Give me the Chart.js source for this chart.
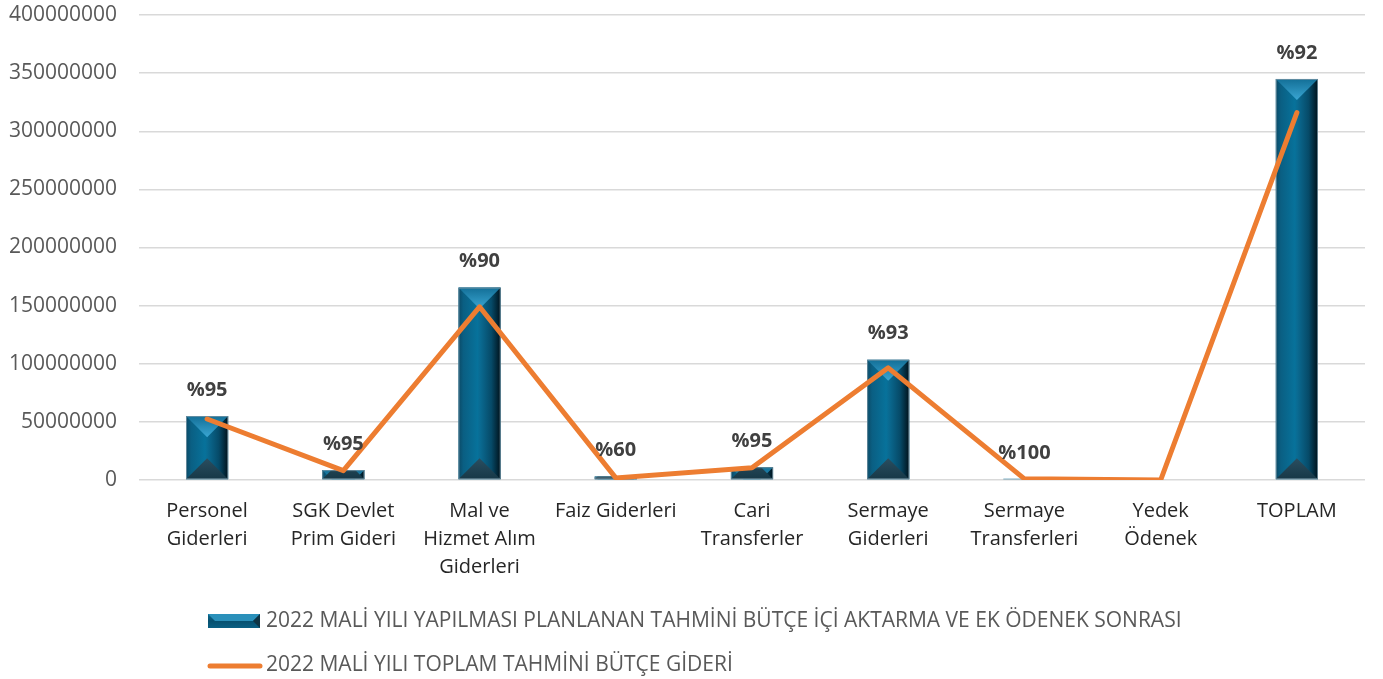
<!DOCTYPE html>
<html>
<head>
<meta charset="utf-8">
<script src="https://cdn.jsdelivr.net/npm/chart.js@4.4.1/dist/chart.umd.min.js"></script>
<style>
  html, body { margin: 0; padding: 0; background: #ffffff; }
  #wrap { position: relative; width: 1383px; height: 679px; }
</style>
</head>
<body>
<div id="wrap"><canvas id="c" width="1383" height="679"></canvas></div>
<script>
// ---- data ----
const categories = [
  ['Personel', 'Giderleri'],
  ['SGK Devlet', 'Prim Gideri'],
  ['Mal ve', 'Hizmet Alım', 'Giderleri'],
  'Faiz Giderleri',
  ['Cari', 'Transferler'],
  ['Sermaye', 'Giderleri'],
  ['Sermaye', 'Transferleri'],
  ['Yedek', 'Ödenek'],
  'TOPLAM'
];
const plannedBudget = [55000000, 8500000, 165500000, 3000000, 11000000, 103500000, 1000000, 0, 345000000];
const totalExpense = [52500000, 8000000, 149000000, 1800000, 10500000, 96500000, 1000000, 0, 316000000];
const percentLabels = ['%95', '%95', '%90', '%60', '%95', '%93', '%100', '', '%92'];
const seriesNames = [
  '2022 MALİ YILI YAPILMASI PLANLANAN TAHMİNİ BÜTÇE İÇİ AKTARMA VE EK ÖDENEK SONRASI',
  '2022 MALİ YILI TOPLAM TAHMİNİ BÜTÇE GİDERİ'
];
const yTicks = { min: 0, max: 400000000, step: 50000000 };

const FONT = "'Open Sans', 'DejaVu Sans', sans-serif";

function drawBevelBar(ctx, x0, x1, top, bottom) {
  const w = x1 - x0, h = bottom - top;
  if (h <= 0.5 || w <= 0) return;
  const cx = (x0 + x1) / 2;
  ctx.save();
  ctx.beginPath();
  ctx.rect(x0, top, w, h);
  ctx.clip();
  const g = ctx.createLinearGradient(x0, 0, x1, 0);
  g.addColorStop(0, '#0b4a67');
  g.addColorStop(0.12, '#0a5f83');
  g.addColorStop(0.45, '#07729b');
  g.addColorStop(0.52, '#0a6a91');
  g.addColorStop(0.78, '#064a68');
  g.addColorStop(1, '#00121b');
  ctx.fillStyle = g;
  ctx.fillRect(x0, top, w, h);
  const d = w * 0.5;
  // top bevel (light)
  const gt = ctx.createLinearGradient(0, top, 0, top + d);
  gt.addColorStop(0, '#136f97');
  gt.addColorStop(1, '#3aa6d3');
  ctx.fillStyle = gt;
  ctx.beginPath();
  ctx.moveTo(x0, top);
  ctx.lineTo(x1, top);
  ctx.lineTo(cx, top + d);
  ctx.closePath();
  ctx.fill();
  // bottom bevel (dark)
  const gb = ctx.createLinearGradient(0, bottom - d, 0, bottom);
  gb.addColorStop(0, '#2b4e60');
  gb.addColorStop(1, '#163847');
  ctx.fillStyle = gb;
  ctx.beginPath();
  ctx.moveTo(x0, bottom);
  ctx.lineTo(x1, bottom);
  ctx.lineTo(cx, bottom - d);
  ctx.closePath();
  ctx.fill();
  ctx.restore();
  ctx.save();
  ctx.strokeStyle = 'rgba(120,150,165,0.8)';
  ctx.lineWidth = 1;
  ctx.strokeRect(x0 + 0.5, top + 0.5, w - 1, Math.max(h - 1, 0));
  ctx.restore();
}

const bevelPlugin = {
  id: 'bevel',
  afterDatasetDraw(chart, args) {
    if (args.index !== 0) return;
    const ctx = chart.ctx;
    args.meta.data.forEach((el) => {
      const p = el.getProps(['x', 'y', 'base', 'width'], true);
      drawBevelBar(ctx, p.x - p.width / 2, p.x + p.width / 2, Math.min(p.y, p.base), Math.max(p.y, p.base));
    });
  }
};

const percentPlugin = {
  id: 'percentLabels',
  afterDatasetsDraw(chart) {
    const ctx = chart.ctx;
    const meta = chart.getDatasetMeta(0);
    ctx.save();
    ctx.font = "bold 20px " + FONT;
    ctx.fillStyle = '#404040';
    ctx.textAlign = 'center';
    ctx.textBaseline = 'middle';
    meta.data.forEach((el, i) => {
      const p = el.getProps(['x', 'y'], true);
      if (percentLabels[i]) ctx.fillText(percentLabels[i], p.x, p.y - 26);
    });
    ctx.restore();
  }
};

function drawBevelLegend(ctx, x, y, w, h) {
  const g = ctx.createLinearGradient(0, y, 0, y + h);
  g.addColorStop(0, '#0a6a91');
  g.addColorStop(0.5, '#07506f');
  g.addColorStop(1, '#0a5f83');
  ctx.fillStyle = g;
  ctx.fillRect(x, y, w, h);
  ctx.fillStyle = '#2a90ba';
  ctx.beginPath();
  ctx.moveTo(x, y); ctx.lineTo(x + w, y); ctx.lineTo(x + w - h / 2, y + h / 2); ctx.lineTo(x + h / 2, y + h / 2); ctx.closePath();
  ctx.fill();
  ctx.fillStyle = '#0f3444';
  ctx.beginPath();
  ctx.moveTo(x + w, y); ctx.lineTo(x + w, y + h); ctx.lineTo(x + w - h / 2, y + h / 2); ctx.closePath();
  ctx.fill();
}

const legendPlugin = {
  id: 'customLegend',
  afterDraw(chart) {
    const ctx = chart.ctx;
    const x = 208, w = 52, tx = 266;
    const y1 = 621, y2 = 665;
    ctx.save();
    drawBevelLegend(ctx, x, y1 - 7, w, 14);
    ctx.strokeStyle = '#ED7D31';
    ctx.lineWidth = 5;
    ctx.lineCap = 'round';
    ctx.beginPath();
    ctx.moveTo(x + 2, y2 + 1);
    ctx.lineTo(x + w, y2 + 1);
    ctx.stroke();
    ctx.font = "21px " + FONT;
    ctx.fillStyle = '#595959';
    ctx.textAlign = 'left';
    ctx.textBaseline = 'middle';
    ctx.fillText(seriesNames[0], tx, y1);
    ctx.fillText(seriesNames[1], tx, y2);
    ctx.restore();
  }
};

new Chart(document.getElementById('c'), {
  data: {
    labels: categories,
    datasets: [
      {
        type: 'bar',
        label: seriesNames[0],
        data: plannedBudget,
        backgroundColor: '#0a6a91',
        barPercentage: 0.31,
        categoryPercentage: 1.0,
        order: 1
      },
      {
        type: 'line',
        label: seriesNames[1],
        data: totalExpense,
        borderColor: '#ED7D31',
        borderWidth: 5,
        pointRadius: 0,
        tension: 0,
        borderCapStyle: 'round',
        borderJoinStyle: 'round',
        order: 0
      }
    ]
  },
  options: {
    responsive: false,
    animation: false,
    devicePixelRatio: 1,
    layout: { padding: { left: 6, right: 18, top: 15, bottom: 81 } },
    plugins: {
      legend: { display: false },
      tooltip: { enabled: false }
    },
    scales: {
      x: {
        grid: { display: false, drawTicks: false },
        border: { display: false },
        ticks: {
          autoSkip: false,
          maxRotation: 0,
          padding: 17,
          color: '#262626',
          font: { family: FONT, size: 20, lineHeight: 1.4 }
        }
      },
      y: {
        min: yTicks.min,
        max: yTicks.max,
        grid: { color: '#d9d9d9', lineWidth: 1.5, drawTicks: false },
        border: { display: false },
        afterFit: (scale) => { scale.width = 133; scale.paddingTop = 0; scale.paddingBottom = 0; },
        ticks: {
          stepSize: yTicks.step,
          padding: 22,
          color: '#595959',
          font: { family: FONT, size: 21 },
          callback: (v) => String(v)
        }
      }
    }
  },
  plugins: [bevelPlugin, percentPlugin, legendPlugin]
});
</script>
</body>
</html>
